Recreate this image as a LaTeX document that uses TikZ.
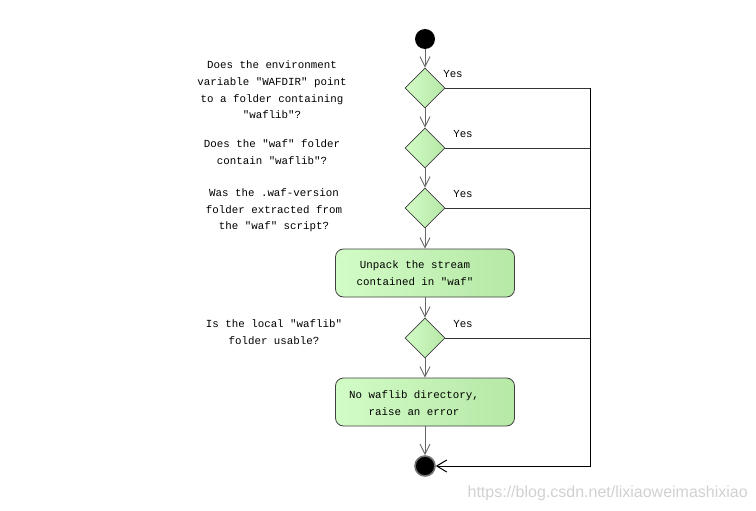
\documentclass[tikz,border=0pt]{standalone}
\usepackage{fontspec}
\setmonofont{Liberation Mono}
\newfontfamily\wmfont{Liberation Sans}
\usetikzlibrary{shapes.geometric,arrows.meta}
\definecolor{gl}{HTML}{D2FCC6}
\definecolor{gr}{HTML}{B6E8A6}
\definecolor{arrgray}{HTML}{666666}
\begin{document}
\begin{tikzpicture}[x=1pt,y=-1pt,
  txt/.style={font=\ttfamily\fontsize{10.8}{16.6}\selectfont, align=center, inner sep=0pt},
  dec/.style={diamond, draw=black!75, line width=0.8pt, minimum width=40pt, minimum height=40pt, inner sep=0pt, left color=gl, right color=gr},
  actbox/.style={rectangle, rounded corners=8pt, draw=black!75, line width=0.8pt, minimum width=179pt, minimum height=48pt, left color=gl, right color=gr},
  flow/.style={draw=arrgray, line width=0.9pt, -{Straight Barb[length=10pt,width=10pt]}},
  yesline/.style={draw=black!80, line width=0.9pt},
  rail/.style={draw=black, line width=1pt}]
\useasboundingbox (0,0) rectangle (756,511);
\node[circle, fill=black, minimum size=20pt, inner sep=0pt] (start) at (425,39) {};
\node[dec] (d1) at (425,88) {};
\node[dec] (d2) at (425,148) {};
\node[dec] (d3) at (425,208) {};
\node[actbox] (b1) at (425,273) {};
\node[dec] (d4) at (425,338) {};
\node[actbox] (b2) at (425,402) {};
\node[circle, fill=black, draw=black!55, line width=1.6pt, minimum size=20pt, inner sep=0pt] (end) at (425,466) {};

\node[txt] (t1) at (272,90) {Does the environment\\variable "WAFDIR" point\\to a folder containing\\"waflib"?};
\node[txt] (t2) at (272,152) {Does the "waf" folder\\contain "waflib"?};
\node[txt] (t3) at (274,210.5) {Was the .waf-version\\folder extracted from\\the "waf" script?};
\node[txt] (t4) at (274,332) {Is the local "waflib"\\folder usable?};
\node[txt] (bt1) at (415,273) {Unpack the stream\\contained in "waf"};
\node[txt] (bt2) at (414,403) {No waflib directory,\\raise an error};

\node[txt] (y1) at (453,74) {Yes};
\node[txt] (y2) at (463,134) {Yes};
\node[txt] (y3) at (463,194) {Yes};
\node[txt] (y4) at (463,324) {Yes};

\coordinate (r1) at (590,88);
\coordinate (r2) at (590,148);
\coordinate (r3) at (590,208);
\coordinate (r4) at (590,338);

\draw[flow] (start) -- (d1);
\draw[flow] (d1) -- (d2);
\draw[flow] (d2) -- (d3);
\draw[flow] (d3) -- (b1);
\draw[flow] (b1) -- (d4);
\draw[flow] (d4) -- (b2);
\draw[flow] (b2) -- (end);

\draw[yesline] (d1.east) -- (r1);
\draw[yesline] (d2.east) -- (r2);
\draw[yesline] (d3.east) -- (r3);
\draw[yesline] (d4.east) -- (r4);
\draw[rail, -{Straight Barb[length=10pt,width=12pt]}] (r1) |- (end);

\node[font=\wmfont\fontsize{16}{18}\selectfont, text=black!18, inner sep=0pt, anchor=east] (wm) at (748,493) {https://blog.csdn.net/lixiaoweimashixiao};
\end{tikzpicture}
\end{document}
